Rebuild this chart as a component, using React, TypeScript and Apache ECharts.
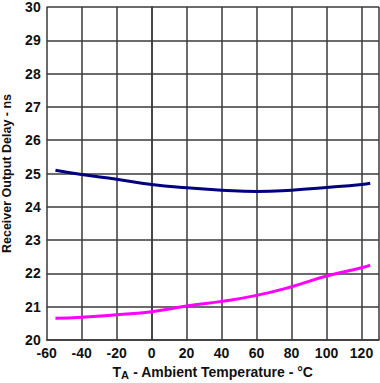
import React, { useEffect, useRef } from "react";
import * as echarts from "echarts";

const temps = [-55, -40, -20, 0, 20, 40, 60, 80, 100, 120, 125];
const blueDelay = [25.1, 24.97, 24.83, 24.67, 24.57, 24.5, 24.46, 24.5, 24.58, 24.67, 24.71];
const magentaDelay = [20.65, 20.68, 20.76, 20.85, 21.02, 21.16, 21.34, 21.6, 21.92, 22.17, 22.25];

const font = "'Liberation Sans', Arial, sans-serif";

export default function App() {
  const ref = useRef<HTMLDivElement>(null);
  useEffect(() => {
    const chart = echarts.init(ref.current!, null, { renderer: "svg" });
    const mk = (vals: number[]) => temps.map((t, i) => [t, vals[i]]);
    chart.setOption({
      animation: false,
      grid: { left: 46.7, top: 7, right: 1, bottom: 43, containLabel: false, outerBoundsMode: "none" },
      xAxis: {
        type: "value",
        min: -60,
        max: 130,
        interval: 20,
        axisLine: { show: true, onZero: false, lineStyle: { color: "#3a3a3a", width: 1.5 } },
        axisTick: { show: false },
        splitLine: { show: true, lineStyle: { color: "#3a3a3a", width: 1.5 } },
        axisLabel: {
          color: "#111",
          fontFamily: font,
          fontWeight: "bold",
          fontSize: 14,
          margin: 6,
          showMaxLabel: false,
          formatter: (v: number) => (v > 120 ? "" : String(v)),
        },
        name: "{a|T}{s|A}{a| - Ambient Temperature - °C}",
        nameLocation: "middle",
        nameGap: 19,
        nameTextStyle: {
          rich: {
            a: { fontFamily: font, fontWeight: "bold", fontSize: 14, color: "#111" },
            s: { fontFamily: font, fontWeight: "bold", fontSize: 11, color: "#111", verticalAlign: "bottom", padding: [6, 0, 0, 0] },
          },
        },
      },
      yAxis: {
        type: "value",
        min: 20,
        max: 30,
        interval: 1,
        axisLine: { show: true, lineStyle: { color: "#3a3a3a", width: 1.5 } },
        axisTick: { show: false },
        splitLine: { show: true, lineStyle: { color: "#3a3a3a", width: 1.5 } },
        axisLabel: {
          color: "#111",
          fontFamily: font,
          fontWeight: "bold",
          fontSize: 14,
          margin: 6,
        },
        name: "Receiver Output Delay - ns",
        nameLocation: "middle",
        nameGap: 33,
        nameTextStyle: { fontFamily: font, fontWeight: "bold", fontSize: 12.5, color: "#111" },
      },
      series: [
        {
          type: "line",
          data: mk(blueDelay),
          smooth: true,
          showSymbol: false,
          lineStyle: { color: "#000080", width: 3 },
        },
        {
          type: "line",
          data: mk(magentaDelay),
          smooth: true,
          showSymbol: false,
          lineStyle: { color: "#ff00ff", width: 3 },
        },
      ],
    });
    return () => chart.dispose();
  }, []);
  return (
    <div
      ref={ref}
      style={{ position: "absolute", left: 0, top: 0, width: 380, height: 383, background: "#fff" }}
    />
  );
}
